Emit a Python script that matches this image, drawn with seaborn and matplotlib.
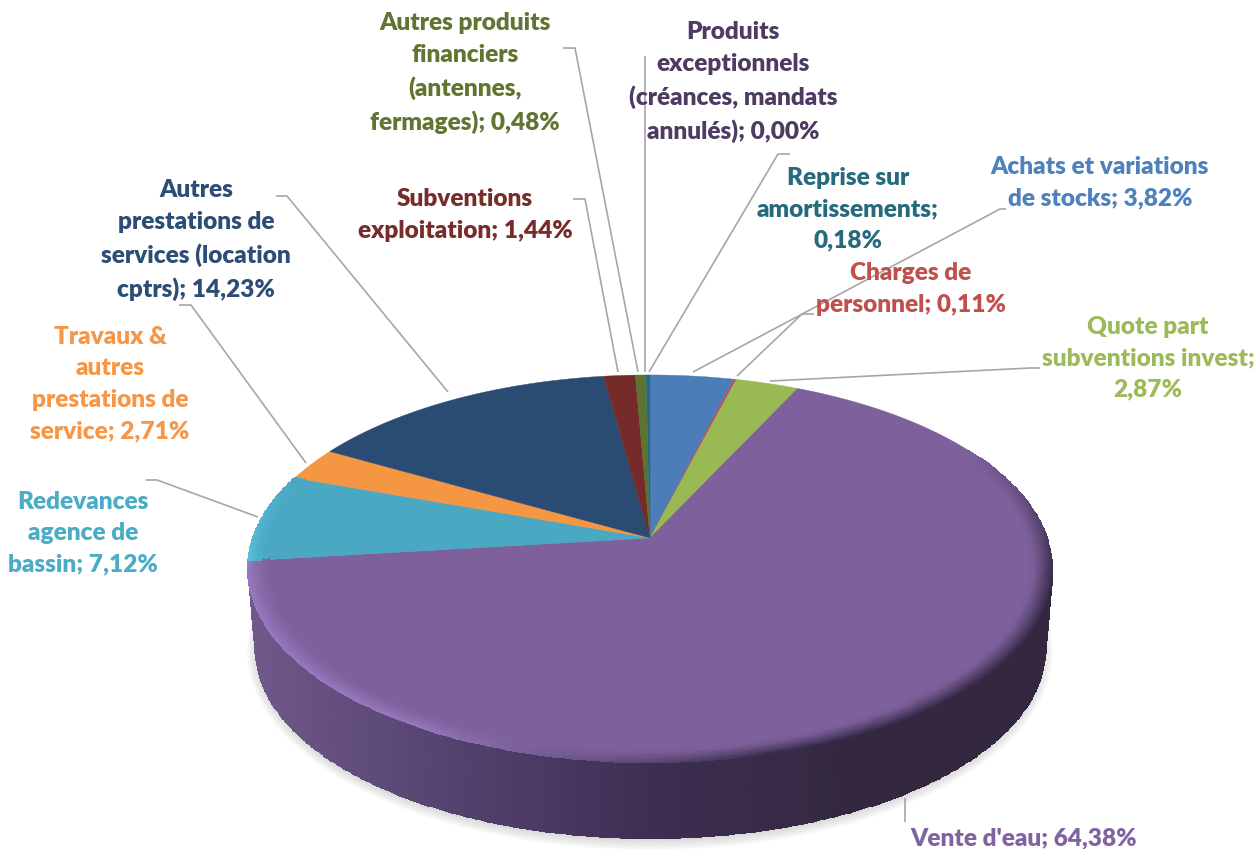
import numpy as np
import matplotlib
matplotlib.use('Agg')
import matplotlib.pyplot as plt
import seaborn as sns

labels = ["Achats et variations\nde stocks", "Charges de\npersonnel", "Quote part\nsubventions invest",
          "Vente d'eau", "Redevances\nagence de\nbassin", "Travaux &\nautres\nprestations de\nservice",
          "Autres\nprestations de\nservices (location\ncptrs)", "Subventions\nexploitation",
          "Autres produits\nfinanciers\n(antennes,\nfermages)", "Produits\nexceptionnels\n(créances, mandats\nannulés)",
          "Reprise sur\namortissements"]
values = [3.82, 0.11, 2.87, 64.38, 7.12, 2.71, 14.23, 1.44, 0.48, 0.00, 0.18]
slice_colors = ['#4c7db9', '#be4f4c', '#98b954', '#7e619c', '#4aa8c3', '#f49642', '#2a4b73',
                '#752b29', '#5d732f', '#4b3a60', '#266a80']
text_colors = ['#4f81bd', '#c0504d', '#9bbb59', '#8064a2', '#4bacc6', '#f79646', '#2c4d75',
               '#772c2a', '#5f7530', '#4d3b62', '#276a7c']

# layout, in pixels of the 1260x849 picture
label_xy = [(1100, 183), (911, 289), (1148, 358), (1024, 838), (83, 533), (110, 384), (196, 240),
            (465, 215), (465, 73), (733, 82), (848, 209)]
leaders = [[(693, 372), (1000, 209), (1006, 209)],
           [(737, 376), (802, 314), (814, 314)],
           [(770, 381), (1030, 368), (1040, 368)],
           [(905, 798), (905, 822)],
           [(258, 517), (157, 480), (146, 480)],
           [(306, 463), (191, 305), (179, 305)],
           [(448, 392), (287, 196), (276, 196)],
           [(618, 372), (585, 199), (573, 199)],
           [(638, 372), (575, 48), (563, 48)],
           [(645, 372), (645, 56)],
           [(649, 372), (778, 154), (790, 154)]]
APEX = (650, 538)
SX, SY, K = 397, 188.8, 0.158


def rim(theta, r=1.0):
    # circle seen in perspective, theta clockwise from the top
    x, y = r * np.sin(theta), r * np.cos(theta)
    d = 1 + K * y
    return APEX[0] + SX * x / d, APEX[1] - SY * y / d


def ellipse(t, cx, cy, rx, ry):
    return cx + rx * np.cos(t), cy + ry * np.sin(t)


sns.set_theme(style='white')
plt.rcParams['font.family'] = ['Lato', 'DejaVu Sans']
fig = plt.figure(figsize=(12.6, 8.49), dpi=100)
ax = fig.add_axes([0, 0, 1, 1])
ax.set_xlim(0, 1260)
ax.set_ylim(849, 0)
ax.axis('off')

# soft shadow under the pie
t = np.linspace(0, 2 * np.pi, 300)
for i in range(14):
    sx, sy = ellipse(t, 650, 652, 403 - i * 1.3, 198 - i * 1.3)
    ax.fill(sx, sy, color='#808080', alpha=0.035, lw=0, zorder=1)

# side wall, shaded from left to right
t = np.linspace(0, np.pi, 361)
x0, y0 = ellipse(t, 650, 568.5, 402, 193.5)
x1, y1 = ellipse(t, 650, 648, 395, 190)
rows = np.linspace(0, 1, 3)
X = np.array([x0 + (x1 - x0) * f for f in rows])
Y = np.array([y0 + (y1 - y0) * f for f in rows])
wall = sns.blend_palette(['#6f588a', '#54426e', '#3e2e52', '#332840', '#332840'], 100)
pos = ((X[:-1, :-1] + X[1:, 1:]) / 2 - 248) / 804
rgb = np.array(wall)[np.clip((pos * 99).astype(int), 0, 99)]
ax.pcolormesh(X, Y, rgb, edgecolors='face', linewidth=0.4, zorder=2)

# top face, slices follow the values
share = np.array(values) / sum(values)
edges = np.concatenate([[0], np.cumsum(share)]) * 2 * np.pi
for v0, v1, c in zip(edges[:-1], edges[1:], slice_colors):
    if v1 <= v0:
        continue
    th = np.linspace(v0, v1, max(3, int((v1 - v0) * 120)))
    px, py = rim(th)
    ax.fill(np.r_[APEX[0], px], np.r_[APEX[1], py], color=c, lw=0.3, zorder=3)

# bevel along the front of the rim
th = np.linspace(np.radians(60), edges[4], 240)
steps = np.linspace(1.0, 0.95, 11)
bx = np.array([rim(th, r)[0] for r in steps])
by = np.array([rim(th, r)[1] for r in steps])
base = np.array(matplotlib.colors.to_rgb(slice_colors[3]))
light = np.array(matplotlib.colors.to_rgb('#9678bd'))
dark = np.array(matplotlib.colors.to_rgb('#3a2d4c'))
tm = (th[:-1] + th[1:]) / 2
# dark on the right of the pie, light on the left
mix = np.clip((tm - np.radians(165)) / np.radians(45), 0, 1)
edge_col = dark[None, :] * (1 - mix[:, None]) + light[None, :] * mix[:, None]
fade = np.clip((tm - np.radians(60)) / np.radians(40), 0, 1)[:, None]
C = np.zeros((len(steps) - 1, len(tm), 3))
for i in range(len(steps) - 1):
    w = (1 - i / (len(steps) - 1)) ** 1.2
    C[i] = base + (edge_col - base) * w * fade
ax.pcolormesh(bx, by, C, edgecolors='face', linewidth=0.3, zorder=4)

# cyan rim highlight
th = np.linspace(edges[4], edges[5], 60)
steps = np.linspace(1.0, 0.97, 5)
bx = np.array([rim(th, r)[0] for r in steps])
by = np.array([rim(th, r)[1] for r in steps])
base = np.array(matplotlib.colors.to_rgb(slice_colors[4]))
top = np.array(matplotlib.colors.to_rgb('#58bfdc'))
tm = (th[:-1] + th[1:]) / 2
fade = np.clip((edges[5] - tm) / (edges[5] - edges[4]), 0, 1)[:, None]
C = np.zeros((len(steps) - 1, len(tm), 3))
for i in range(len(steps) - 1):
    C[i] = base + (top - base) * (1 - i / (len(steps) - 1)) * fade
ax.pcolormesh(bx, by, C, edgecolors='face', linewidth=0.3, zorder=4)

for pts in leaders:
    xs, ys = zip(*pts)
    ax.plot(xs, ys, color='#a6a6a6', lw=1.2, zorder=5, solid_capstyle='butt')

for lab, val, c, (x, y) in zip(labels, values, text_colors, label_xy):
    sep = ';\n' if lab.startswith(('Reprise', 'Quote')) else '; '
    txt = lab + sep + f'{val:.2f}'.replace('.', ',') + '%'
    ax.text(x, y, txt, color=c, fontsize=17.6, fontweight='heavy', ha='center', va='center',
            linespacing=1.52, zorder=6)

fig.savefig('out.png', dpi=100)
